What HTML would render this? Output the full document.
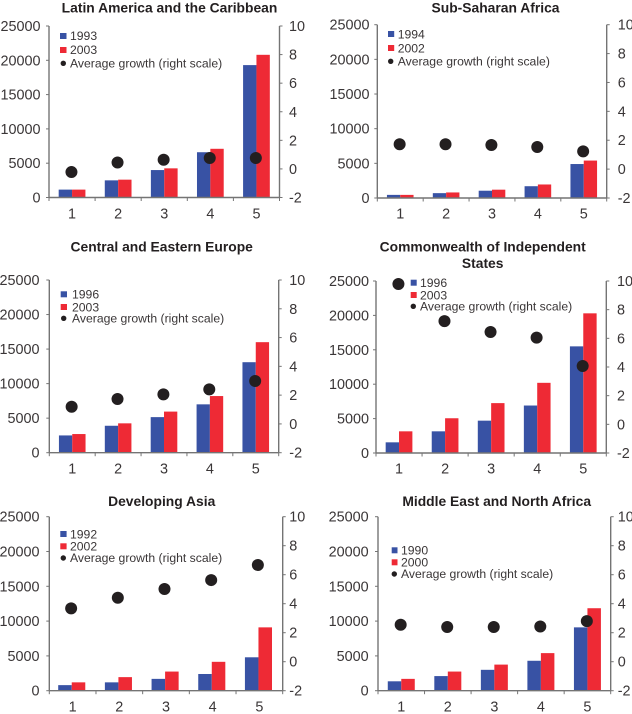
<!DOCTYPE html>
<html lang="en">
<head>
<meta charset="utf-8">
<title>Income quintile charts by region</title>
<style>
html,body{margin:0;padding:0;background:#fff;}
svg{display:block;}
text{font-family:"Liberation Sans",Arial,sans-serif;fill:#231f20;}
.title{font-size:13.85px;font-weight:bold;text-anchor:middle;}
.leg{font-size:12.2px;fill:#3a3637;}
.tick{font-size:14.4px;fill:#3a3637;}
</style>
</head>
<body>
<svg id="root" width="632" height="714" viewBox="0 0 632 714" xmlns="http://www.w3.org/2000/svg">
  <g id="p1">
    <text class="title" x="169.5" y="12.5">Latin America and the Caribbean</text>
    <g>
      <rect x="60" y="33" width="6.5" height="6" fill="#3852a4"/>
      <text class="leg" x="70" y="40">1993</text>
      <rect x="60" y="47" width="6.5" height="6" fill="#ee2a35"/>
      <text class="leg" x="70" y="54">2003</text>
      <circle cx="63.3" cy="63.3" r="2.7" fill="#231f20"/>
      <text class="leg" x="70" y="67.3">Average growth (right scale)</text>
    </g>
  </g>
  <g id="p2">
    <text class="title" x="495.5" y="12.5">Sub-Saharan Africa</text>
    <g>
      <rect x="388" y="31" width="6.2" height="6" fill="#3852a4"/>
      <text class="leg" x="397.7" y="38.3">1994</text>
      <rect x="388" y="45" width="6.2" height="6" fill="#ee2a35"/>
      <text class="leg" x="397.7" y="52.3">2002</text>
      <circle cx="390.7" cy="61.3" r="2.7" fill="#231f20"/>
      <text class="leg" x="397.7" y="65.5">Average growth (right scale)</text>
    </g>
  </g>
  <g id="p3">
    <text class="title" x="161.7" y="251.5">Central and Eastern Europe</text>
    <g>
      <rect x="60.7" y="291.3" width="6.3" height="6" fill="#3852a4"/>
      <text class="leg" x="72" y="298.6">1996</text>
      <rect x="60.7" y="304" width="6.3" height="6" fill="#ee2a35"/>
      <text class="leg" x="72" y="311.3">2003</text>
      <circle cx="63.7" cy="318.3" r="2.7" fill="#231f20"/>
      <text class="leg" x="72" y="322.5">Average growth (right scale)</text>
    </g>
  </g>
  <g id="p4">
    <text class="title" x="482.7" y="251.5">Commonwealth of Independent</text>
    <text class="title" x="482.7" y="268">States</text>
    <g>
      <rect x="410.7" y="279.7" width="6" height="6" fill="#3852a4"/>
      <text class="leg" x="420" y="287">1996</text>
      <rect x="410.7" y="292" width="6" height="6" fill="#ee2a35"/>
      <text class="leg" x="420" y="299.3">2003</text>
      <circle cx="413.3" cy="306.3" r="2.7" fill="#231f20"/>
      <text class="leg" x="420" y="310.5">Average growth (right scale)</text>
    </g>
  </g>
  <g id="p5">
    <text class="title" x="161.7" y="506">Developing Asia</text>
    <g>
      <rect x="60.3" y="531" width="6.3" height="6" fill="#3852a4"/>
      <text class="leg" x="70" y="538.3">1992</text>
      <rect x="60.3" y="543.3" width="6.3" height="6" fill="#ee2a35"/>
      <text class="leg" x="70" y="550.6">2002</text>
      <circle cx="63.3" cy="558" r="2.7" fill="#231f20"/>
      <text class="leg" x="70" y="562.2">Average growth (right scale)</text>
    </g>
  </g>
  <g id="p6">
    <text class="title" x="496.7" y="506">Middle East and North Africa</text>
    <g>
      <rect x="391.7" y="547.3" width="5.8" height="6" fill="#3852a4"/>
      <text class="leg" x="401" y="554.6">1990</text>
      <rect x="391.7" y="559.3" width="5.8" height="6" fill="#ee2a35"/>
      <text class="leg" x="401" y="566.6">2000</text>
      <circle cx="394.3" cy="574" r="2.7" fill="#231f20"/>
      <text class="leg" x="401" y="578.2">Average growth (right scale)</text>
    </g>
  </g>
</svg>
<script>
// Shared axis data
const categories = [1, 2, 3, 4, 5];
const leftTicks = [0, 5000, 10000, 15000, 20000, 25000];
const rightTicks = [-2, 0, 2, 4, 6, 8, 10];

// Latin America and the Caribbean
const latamEarly = [1150, 2500, 4000, 6600, 19300];
const latamLate = [1150, 2600, 4250, 7100, 20800];
const latamGrowth = [-0.22, 0.45, 0.64, 0.76, 0.76];

// Sub-Saharan Africa
const ssaEarly = [450, 700, 1050, 1700, 4900];
const ssaLate = [450, 800, 1200, 1950, 5400];
const ssaGrowth = [1.72, 1.72, 1.67, 1.53, 1.23];

// Central and Eastern Europe
const ceeEarly = [2500, 3900, 5150, 7000, 13100];
const ceeLate = [2700, 4250, 5950, 8200, 16000];
const ceeGrowth = [1.19, 1.73, 2.05, 2.4, 2.98];

// Commonwealth of Independent States
const cisEarly = [1550, 3150, 4700, 6900, 15500];
const cisLate = [3150, 5050, 7250, 10200, 20300];
const cisGrowth = [9.79, 7.2, 6.44, 6.05, 4.07];

// Developing Asia
const asiaEarly = [800, 1200, 1700, 2400, 4800];
const asiaLate = [1200, 1950, 2750, 4150, 9100];
const asiaGrowth = [3.68, 4.41, 5.01, 5.63, 6.67];

// Middle East and North Africa
const menaEarly = [1350, 2100, 3000, 4300, 9100];
const menaLate = [1700, 2750, 3750, 5400, 11850];
const menaGrowth = [2.55, 2.39, 2.39, 2.43, 2.8];

const NS = 'http://www.w3.org/2000/svg';
const AXIS = '#747474';

function make(parent, tag, attrs, content) {
  const el = document.createElementNS(NS, tag);
  for (const k in attrs) el.setAttribute(k, attrs[k]);
  if (content !== undefined) el.textContent = content;
  parent.appendChild(el);
  return el;
}

function drawPanel(id, frame, early, late, growth) {
  const host = document.getElementById(id);
  const plot = document.createElementNS(NS, 'g');
  
  
  host.insertBefore(plot, host.firstChild);

  const yLeft = v => frame.b + (frame.t - frame.b) * v / 25000;
  const yRight = v => frame.b + (frame.t - frame.b) * (v + 2) / 12;
  const step = (frame.r - frame.l) / categories.length;
  const xCenter = i => frame.l + step * (i + 0.5);
  const shift = frame.dx || 0;
  const barW = step * 0.29;

  categories.forEach((c, i) => {
    const earlyBar = make(plot, 'rect', {x: xCenter(i) + shift - barW, y: yLeft(early[i]), width: barW, height: frame.b - yLeft(early[i]), fill: '#3852a4'});
    
    
    const lateBar = make(plot, 'rect', {x: xCenter(i) + shift, y: yLeft(late[i]), width: barW, height: frame.b - yLeft(late[i]), fill: '#ee2a35'});
    
    
  });

  const leftAxis = make(plot, 'line', {x1: frame.l, x2: frame.l, y1: frame.t, y2: frame.b, stroke: AXIS, 'stroke-width': 1.4});
  
  
  const rightAxis = make(plot, 'line', {x1: frame.r, x2: frame.r, y1: frame.t, y2: frame.b, stroke: AXIS, 'stroke-width': 1.4});
  
  
  const baseAxis = make(plot, 'line', {x1: frame.l, x2: frame.r, y1: frame.b, y2: frame.b, stroke: AXIS, 'stroke-width': 1.4});
  
  

  leftTicks.forEach(v => {
    const mark = make(plot, 'line', {x1: frame.l - 3, x2: frame.l, y1: yLeft(v), y2: yLeft(v), stroke: AXIS, 'stroke-width': 1});
    
    
    const label = make(plot, 'text', {class: 'tick', x: frame.lx, y: yLeft(v) + 5, 'text-anchor': 'end'}, v);
    
    
  });

  rightTicks.forEach(v => {
    const mark = make(plot, 'line', {x1: frame.r, x2: frame.r + 3, y1: yRight(v), y2: yRight(v), stroke: AXIS, 'stroke-width': 1});
    
    
    const label = make(plot, 'text', {class: 'tick', x: frame.rx, y: yRight(v) + 5}, v);
    
    
  });

  for (let i = 0; i <= categories.length; i++) {
    const x = frame.l + step * i;
    const mark = make(plot, 'line', {x1: x, x2: x, y1: frame.b, y2: frame.b + 3.5, stroke: AXIS, 'stroke-width': 1});
    
    
  }

  categories.forEach((c, i) => {
    const label = make(plot, 'text', {class: 'tick', x: xCenter(i), y: frame.xy, 'text-anchor': 'middle'}, c);
    
    
  });

  growth.forEach((v, i) => {
    const dot = make(host, 'circle', {cx: xCenter(i) + shift - 0.6, cy: yRight(v), r: 6, fill: '#231f20'});
    
    
  });
}

drawPanel('p1', {l: 49, r: 279.5, t: 26, b: 197.5, lx: 40.5, rx: 289, xy: 218.3}, latamEarly, latamLate, latamGrowth);
drawPanel('p2', {l: 377.3, r: 606.7, t: 24.7, b: 198, lx: 369.5, rx: 617.7, xy: 218.3}, ssaEarly, ssaLate, ssaGrowth);
drawPanel('p3', {l: 49.3, r: 278.7, t: 280, b: 452.7, lx: 39.5, rx: 289.3, xy: 473.5}, ceeEarly, ceeLate, ceeGrowth);
drawPanel('p4', {l: 376, r: 606.3, t: 281, b: 453, lx: 369, rx: 617, xy: 473.5}, cisEarly, cisLate, cisGrowth);
drawPanel('p5', {l: 49.3, r: 282.7, t: 516.7, b: 690.7, lx: 39.5, rx: 289.3, xy: 711.7, dx: -0.9}, asiaEarly, asiaLate, asiaGrowth);
drawPanel('p6', {l: 378, r: 610.7, t: 516.7, b: 690.7, lx: 368.7, rx: 617.7, xy: 711.7}, menaEarly, menaLate, menaGrowth);
</script>
</body>
</html>
